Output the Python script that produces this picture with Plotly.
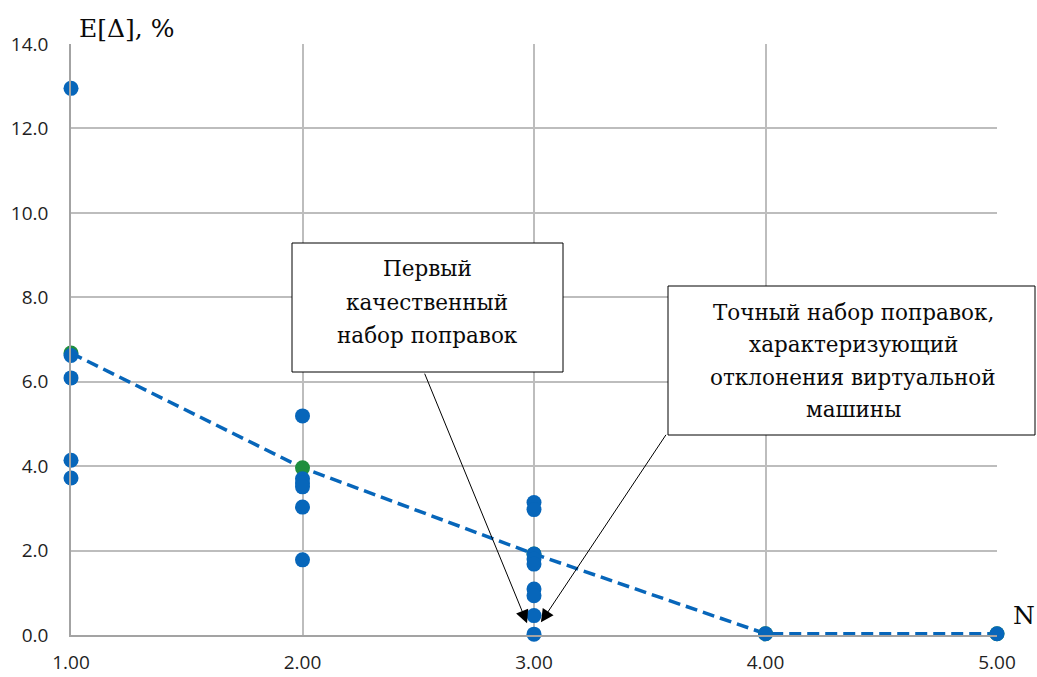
import plotly.graph_objects as go

# Number of correction iterations N and the mean error E[Δ] of each run
n_levels = [1.0, 2.0, 3.0, 4.0, 5.0]
runs_n1 = [12.95, 6.62, 6.09, 4.14, 3.72]
runs_n2 = [5.19, 3.70, 3.60, 3.51, 3.03, 1.78]
runs_n3 = [3.14, 2.97, 1.92, 1.80, 1.68, 1.09, 0.93, 0.46, 0.02]
runs_n4 = [0.03]
runs_n5 = [0.03]

# Representative error per N (trend line)
trend_error = [6.68, 3.96, 1.92, 0.03, 0.03]

x_ticks = [1.0, 2.0, 3.0, 4.0, 5.0]
y_ticks = [0, 2, 4, 6, 8, 10, 12, 14]

blue = "#0766BA"
green = "#1E8E3E"
grid = "#BDBDBD"
axis_gray = "#A3A3A3"
text_dark = "#1F1F1F"
serif = "DejaVu Serif"

all_runs = [runs_n1, runs_n2, runs_n3, runs_n4, runs_n5]
scatter_x = [n for n, vals in zip(n_levels, all_runs) for _ in vals]
scatter_y = [v for vals in all_runs for v in vals]

fig = go.Figure()

fig.add_trace(go.Scatter(
    x=n_levels, y=trend_error, mode="lines+markers",
    line=dict(color=blue, width=3.5, dash="12px,6px"),
    marker=dict(color=green, size=15),
    cliponaxis=False, showlegend=False,
))
fig.add_trace(go.Scatter(
    x=scatter_x, y=scatter_y, mode="markers",
    marker=dict(color=blue, size=15),
    cliponaxis=False, showlegend=False,
))

W, H = 1037, 677
L, R, T, B = 71, 40, 44, 42
PW, PH = W - L - R, H - T - B


def px(xp):
    return (xp - L) / PW


def py(yp):
    return (H - B - yp) / PH


shapes = []
annotations = []

# Callout boxes
boxes = [
    (292, 243, 563, 372, 427,
     ["Первый", "качественный", "набор поправок"], [268, 302, 335]),
    (668, 286, 1035, 435, 853,
     ["Точный набор поправок,", "характеризующий",
      "отклонения виртуальной", "машины"], [312, 345, 377, 409]),
]
for x0, y0, x1, y1, cx, lines, ys in boxes:
    shapes.append(dict(type="rect", xref="paper", yref="paper",
                       x0=px(x0), x1=px(x1), y0=py(y1), y1=py(y0),
                       line=dict(color="#000000", width=1),
                       fillcolor="white", layer="above"))
    for line_text, yc in zip(lines, ys):
        annotations.append(dict(
            xref="paper", yref="paper", x=px(cx), y=py(yc),
            text=line_text, showarrow=False, xanchor="center", yanchor="middle",
            font=dict(family=serif, size=21.5, color="#0A0A0A"),
        ))

# Arrows from the boxes to the N = 3 points
annotations.append(dict(
    xref="x", yref="y", x=2.97, y=0.28, text="", showarrow=True,
    axref="pixel", ayref="pixel", ax=-103, ay=-251,
    arrowhead=2, arrowsize=2.6, arrowwidth=1, arrowcolor="#000000", standoff=0,
))
annotations.append(dict(
    xref="x", yref="y", x=3.03, y=0.30, text="", showarrow=True,
    axref="pixel", ayref="pixel", ax=126, ay=-189,
    arrowhead=2, arrowsize=2.6, arrowwidth=1, arrowcolor="#000000", standoff=0,
))

# Axis titles
annotations.append(dict(
    xref="paper", yref="paper", x=px(77), y=py(28), text="E[Δ], %",
    showarrow=False, xanchor="left", yanchor="middle",
    font=dict(family=serif, size=25, color="#0A0A0A"),
))
annotations.append(dict(
    xref="paper", yref="paper", x=px(1011), y=py(615), text="N",
    showarrow=False, xanchor="left", yanchor="middle",
    font=dict(family=serif, size=25, color="#0A0A0A"),
))

fig.update_layout(
    width=W, height=H,
    margin=dict(l=L, r=R, t=T, b=B, autoexpand=False),
    paper_bgcolor="white", plot_bgcolor="white",
    shapes=shapes, annotations=annotations,
    font=dict(family="Open Sans", size=19, color=text_dark),
)
fig.update_xaxes(
    range=[1, 5], tickvals=x_ticks, tickformat=".2f",
    showgrid=True, gridcolor=grid, gridwidth=1.6,
    showline=True, linecolor=axis_gray, linewidth=1.6,
    zeroline=False, ticks="", ticklabelstandoff=9,
)
fig.update_yaxes(
    range=[0, 14], tickvals=y_ticks, tickformat=".1f",
    showgrid=True, gridcolor=grid, gridwidth=1.6,
    showline=True, linecolor=axis_gray, linewidth=1.6,
    zeroline=False, ticks="", ticklabelstandoff=17,
)

fig.write_html("out.html")
